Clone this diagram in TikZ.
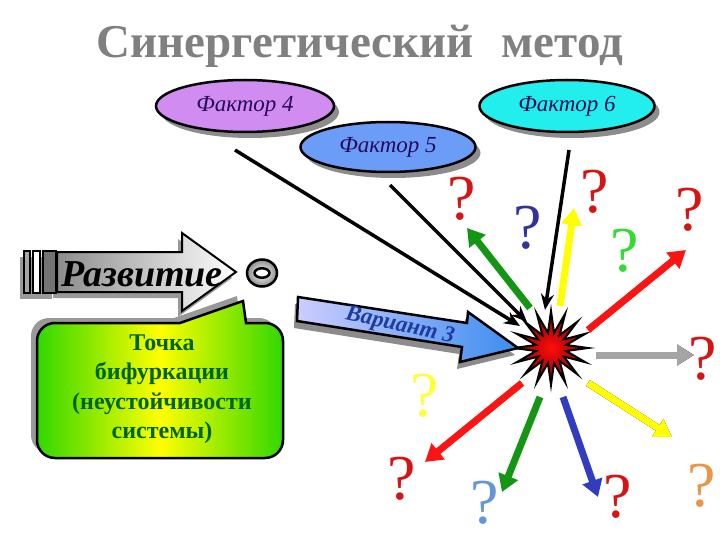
\documentclass[tikz,border=0pt]{standalone}
\usepackage{fontspec}
\setmainfont{Liberation Serif}
\usetikzlibrary{arrows.meta,shapes.geometric,shadows,calc}
\definecolor{titlegray}{RGB}{128,128,128}
\definecolor{ftext}{RGB}{40,10,90}
\definecolor{fviolet}{RGB}{208,140,240}
\definecolor{fblue}{RGB}{106,156,248}
\definecolor{fcyan}{RGB}{34,238,238}
\definecolor{agreen}{RGB}{20,150,20}
\definecolor{ayellow}{RGB}{255,255,0}
\definecolor{ared}{RGB}{250,20,20}
\definecolor{agray}{RGB}{165,165,165}
\definecolor{ablue}{RGB}{50,60,190}
\definecolor{qred}{RGB}{215,20,20}
\definecolor{qblue}{RGB}{50,50,160}
\definecolor{qgreen}{RGB}{50,220,50}
\definecolor{qyellow}{RGB}{255,255,60}
\definecolor{qlblue}{RGB}{100,150,220}
\definecolor{qorange}{RGB}{235,150,70}
\definecolor{cgreen}{RGB}{50,215,0}
\definecolor{ctext}{RGB}{0,100,0}
\definecolor{vtext}{RGB}{30,60,160}
\begin{document}
\begin{tikzpicture}[x=1pt,y=-1pt,
  factor/.style={ellipse, draw=black, line width=2.5pt, minimum width=178pt,
    minimum height=52pt, inner sep=0pt, text=ftext,
    font=\fontsize{23}{23}\selectfont\itshape,
    drop shadow={shadow xshift=5pt, shadow yshift=-6pt, fill=black!45, opacity=1}},
  blackarrow/.style={line width=3.5pt, -{Stealth[length=16pt,width=13pt]}},
  carrow/.style={line width=7pt, -{Triangle[length=17pt,width=20pt]}},
  qmark/.style={inner sep=0pt, font=\fontsize{64}{64}\selectfont},
]
\useasboundingbox (0,0) rectangle (720,540);

% title
\node[text=titlegray, font=\fontsize{47}{47}\selectfont\bfseries] (title) at (360,46)
  {Синергетический\hspace{0.6em}метод};

% factor ellipses
\node[factor, fill=fviolet] (f4) at (245,106) {Фактор 4};
\node[factor, fill=fcyan, minimum width=175pt] (f6) at (567,106) {Фактор 6};
\node[factor, fill=fblue, minimum width=175pt, minimum height=50pt] (f5) at (388,147) {Фактор 5};

% burst
\node[star, star points=16, star point ratio=2.4, minimum size=74pt, inner sep=0pt,
  draw=black, line width=2pt, inner color=red!95!white, outer color=red!50!black] (burst) at (551,348) {};

% black connectors
\coordinate (c4) at (235,150);
\coordinate (c5) at (390,185);
\coordinate (c6) at (569,150);
\coordinate (e4) at (520,326);
\coordinate (e5) at (527,322);
\coordinate (e6) at (545,310);

% coloured arrows (coordinates)
\coordinate (g1s) at (530,308); \coordinate (g1e) at (467,228);
\coordinate (y1s) at (560,306); \coordinate (y1e) at (574,208);
\coordinate (r1s) at (588,330); \coordinate (r1e) at (686,250);
\coordinate (gr1s) at (596,355); \coordinate (gr1e) at (694,355);
\coordinate (y2s) at (588,383); \coordinate (y2e) at (672,437);
\coordinate (b1s) at (563,397); \coordinate (b1e) at (598,497);
\coordinate (g2s) at (540,397); \coordinate (g2e) at (502,492);
\coordinate (r2s) at (522,383); \coordinate (r2e) at (425,462);

\draw[carrow, draw=agreen] (g1s) -- (g1e);
\draw[carrow, draw=ayellow] (y1s) -- (y1e);
\draw[blackarrow] (c4) -- (e4);
\draw[blackarrow] (c5) -- (e5);
\draw[blackarrow] (c6) -- (e6);
\draw[carrow, draw=ared] (r1s) -- (r1e);
\draw[carrow, draw=black, shift={(0,3)}] (gr1s) -- (gr1e);
\draw[carrow, draw=agray] (gr1s) -- (gr1e);
\draw[carrow, draw=black, shift={(3,1)}] (y2s) -- (y2e);
\draw[carrow, draw=ayellow] (y2s) -- (y2e);
\draw[carrow, draw=ablue] (b1s) -- (b1e);
\draw[carrow, draw=agreen] (g2s) -- (g2e);
\draw[carrow, draw=ared] (r2s) -- (r2e);

% question marks
\node[qmark, text=qred] (q1) at (462,199) {?};
\node[qmark, text=qblue] (q2) at (528,228) {?};
\node[qmark, text=qred] (q3) at (595,192) {?};
\node[qmark, text=qgreen] (q4) at (625,251) {?};
\node[qmark, text=qred] (q5) at (690,210) {?};
\node[qmark, text=qred] (q6) at (703,359) {?};
\node[qmark, text=qyellow] (q7) at (425,396) {?};
\node[qmark, text=qred] (q8) at (402,479) {?};
\node[qmark, text=qlblue] (q9) at (485,503) {?};
\node[qmark, text=qred] (q10) at (618,497) {?};
\node[qmark, text=qorange] (q11) at (702,486) {?};

% Variant 3 arrow
\fill[black!45] (295,304) -- (464,330) -- (465,319) -- (515,355) -- (457,369) -- (459,354) -- (294,328) -- cycle;
\draw[line width=2.5pt, draw=black, left color={rgb,255:red,205;green,205;blue,255}, right color={rgb,255:red,60;green,140;blue,240}]
  (298,297) -- (467,323) -- (468,312) -- (518,348) -- (460,362) -- (462,347) -- (297,321) -- cycle;
\node[rotate=-12, text=vtext, font=\fontsize{23}{23}\selectfont\bfseries\itshape] (var) at (400,326) {Вариант 3};

% Development arrow
\begin{scope}[shift={(-4,6)}]
  \fill[black!40] (57,252) -- (182,252) -- (182,233) -- (236,272) -- (182,311) -- (182,292) -- (57,292) -- cycle;
  \fill[black!40] (24,251) rectangle (56,293);
\end{scope}
\draw[line width=2pt, left color=black!45, right color=white]
  (57,252) -- (182,252) -- (182,233) -- (236,272) -- (182,311) -- (182,292) -- (57,292) -- cycle;
\draw[line width=1.8pt, fill=black!35] (24,251) rectangle (30,293);
\draw[line width=1.8pt, fill=white] (33,251) rectangle (40,293);
\draw[line width=1.8pt, fill=black!55] (43,251) rectangle (56,293);
\node[font=\fontsize{38}{38}\selectfont\bfseries\itshape, anchor=base west] (dev) at (58,286) {Развитие};

% ring symbol
\node[ellipse, draw=black, line width=2.5pt, minimum width=30pt, minimum height=27pt,
  inner color=white, outer color=black!45] (ring) at (262,273) {};
\node[ellipse, draw=black, line width=2.5pt, minimum width=15pt, minimum height=9pt,
  fill=white] (ringin) at (ring.center) {};

% callout
\newcommand\myCallout{(180,323) -- (55,323) arc[start angle=90,end angle=180,radius=18pt]
  -- (37,440) arc[start angle=180,end angle=270,radius=18pt]
  -- (265,458) arc[start angle=270,end angle=360,radius=18pt]
  -- (283,341) arc[start angle=0,end angle=90,radius=18pt]
  -- (246,323) -- (243,301) -- cycle}
\fill[black!40, shift={(-6,-5)}] \myCallout;
\draw[line width=2.5pt, left color=cgreen, right color=cgreen, middle color=yellow] \myCallout;
\node[align=center, text=ctext, font=\fontsize{24}{29.5}\selectfont\bfseries] (bif) at (162,389)
  {Точка\\бифуркации\\(неустойчивости\\системы)};
\end{tikzpicture}
\end{document}
